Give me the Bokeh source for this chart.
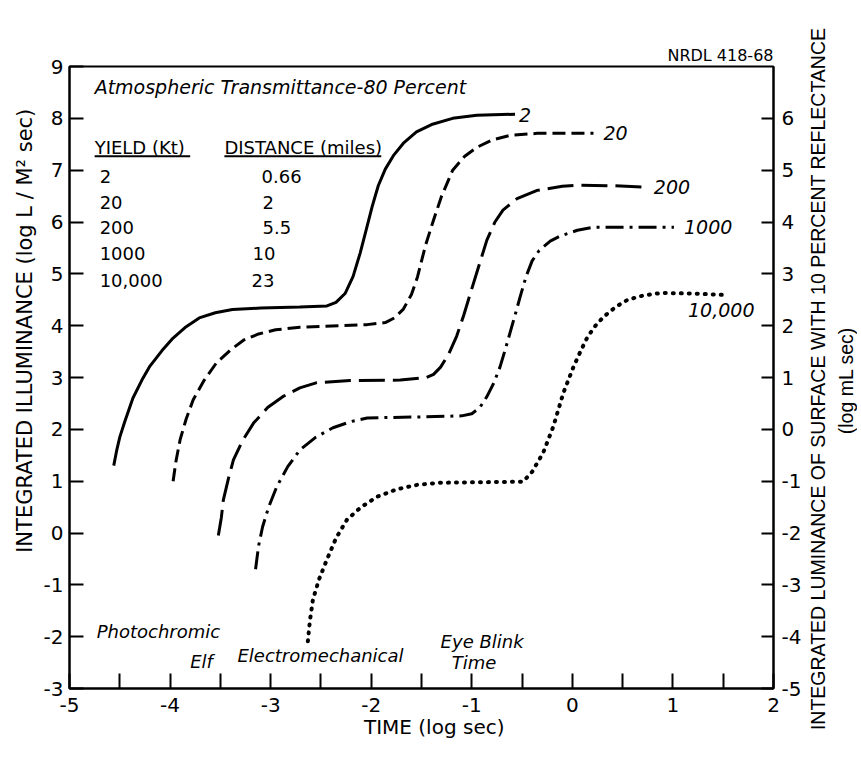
import math
from bokeh.plotting import figure
from bokeh.layouts import row
from bokeh.models import Range1d, LinearAxis, FixedTicker, Label, PrintfTickFormatter, Div
from bokeh.embed import file_html
from bokeh.resources import INLINE

# ---------------- data ----------------
x_2 = [-4.56, -4.53, -4.50, -4.45, -4.37, -4.28, -4.20, -4.08, -3.97, -3.84, -3.71, -3.55,
       -3.38, -3.10, -2.71, -2.44, -2.35, -2.26, -2.18, -2.11, -2.05, -1.99, -1.93, -1.86,
       -1.78, -1.68, -1.55, -1.40, -1.19, -0.95, -0.57]
y_2 = [1.30, 1.60, 1.85, 2.15, 2.60, 2.95, 3.22, 3.52, 3.76, 3.98, 4.15, 4.25,
       4.31, 4.34, 4.36, 4.38, 4.45, 4.62, 4.95, 5.40, 5.85, 6.30, 6.70, 7.02,
       7.28, 7.52, 7.74, 7.88, 8.00, 8.06, 8.08]

x_20 = [-3.97, -3.94, -3.90, -3.84, -3.77, -3.66, -3.54, -3.40, -3.27, -3.12, -2.95, -2.71,
        -2.30, -2.04, -1.86, -1.77, -1.68, -1.60, -1.54, -1.46, -1.38, -1.30, -1.19, -1.07,
        -0.95, -0.80, -0.62, -0.35, 0.21]
y_20 = [1.00, 1.40, 1.80, 2.20, 2.57, 2.95, 3.28, 3.53, 3.72, 3.84, 3.92, 3.97,
        4.00, 4.02, 4.06, 4.15, 4.32, 4.60, 4.94, 5.55, 6.04, 6.50, 7.00, 7.27,
        7.44, 7.58, 7.67, 7.71, 7.71]

x_200 = [-3.52, -3.49, -3.47, -3.42, -3.37, -3.28, -3.17, -3.03, -2.88, -2.71, -2.54, -2.21,
         -1.71, -1.45, -1.38, -1.31, -1.23, -1.15, -1.08, -1.01, -0.93, -0.85, -0.77, -0.69,
         -0.55, -0.35, -0.10, 0.08, 0.40, 0.75]
y_200 = [-0.05, 0.30, 0.64, 1.05, 1.41, 1.78, 2.12, 2.42, 2.63, 2.80, 2.90, 2.94,
         2.95, 3.00, 3.06, 3.20, 3.45, 3.80, 4.20, 4.65, 5.15, 5.65, 6.00, 6.23,
         6.45, 6.61, 6.69, 6.71, 6.70, 6.67]

x_1000 = [-3.15, -3.12, -3.08, -3.02, -2.94, -2.83, -2.71, -2.55, -2.38, -2.20, -2.04, -1.50,
          -1.10, -1.00, -0.92, -0.85, -0.78, -0.72, -0.67, -0.62, -0.57, -0.52, -0.46, -0.40,
          -0.33, -0.22, -0.12, 0.05, 0.21, 1.01]
y_1000 = [-0.70, -0.25, 0.12, 0.50, 0.89, 1.28, 1.60, 1.85, 2.03, 2.15, 2.22, 2.24,
          2.26, 2.30, 2.42, 2.63, 2.90, 3.20, 3.52, 3.86, 4.20, 4.55, 4.95, 5.25,
          5.45, 5.63, 5.73, 5.84, 5.90, 5.90]

x_10000 = [-2.63, -2.61, -2.58, -2.52, -2.44, -2.35, -2.24, -2.10, -1.94, -1.75, -1.54, -1.31,
           -0.49, -0.40, -0.29, -0.19, -0.09, 0.01, 0.08, 0.15, 0.23, 0.31, 0.43, 0.55,
           0.70, 0.88, 1.20, 1.54]
y_10000 = [-2.09, -1.70, -1.29, -0.90, -0.51, -0.10, 0.26, 0.50, 0.70, 0.84, 0.93, 0.97,
           0.99, 1.18, 1.55, 2.05, 2.70, 3.20, 3.50, 3.78, 4.00, 4.17, 4.36, 4.50,
           4.58, 4.63, 4.62, 4.59]

curve_labels = ["2", "20", "200", "1000", "10,000"]
yields = ["2", "20", "200", "1000", "10,000"]
distances = ["0.66", "2", "5.5", "10", "23"]

x_ticks = [-5, -4, -3, -2, -1, 0, 1, 2]
x_minor = [-4.5, -3.5, -2.5, -1.5, -0.5, 0.5, 1.5]
y_ticks = list(range(-3, 10))
y2_ticks = list(range(-5, 7))

right_title = "INTEGRATED LUMINANCE OF SURFACE WITH 10 PERCENT REFLECTANCE"
right_units = "(log mL sec)"

FONT = "DejaVu Sans"
NB = "\u00a0"
H = 748

# ---------------- main figure ----------------
p = figure(width=806, height=H, x_range=Range1d(-5, 2), y_range=Range1d(-3, 9),
           output_backend="svg", toolbar_location=None,
           min_border_left=69, min_border_right=33, min_border_top=66, min_border_bottom=60)
p.grid.visible = False
p.outline_line_color = "black"
p.outline_line_width = 2
p.background_fill_color = "white"
p.border_fill_color = "white"

p.title.text = "NRDL 418-68"
p.title.align = "right"
p.title.text_font = FONT
p.title.text_font_size = "16px"
p.title.text_font_style = "normal"
p.title.text_color = "black"
p.title.standoff = 3

p.extra_y_ranges = {"right": Range1d(-5, 7)}
raxis = LinearAxis(y_range_name="right")
p.add_layout(raxis, "right")

for ax in [p.xaxis[0], p.yaxis[0], raxis]:
    ax.formatter = PrintfTickFormatter(format="%d")
    ax.axis_line_color = "black"
    ax.axis_line_width = 2
    ax.major_tick_line_color = "black"
    ax.major_tick_line_width = 2
    ax.minor_tick_line_color = "black"
    ax.minor_tick_line_width = 2
    ax.major_tick_out = 0
    ax.minor_tick_out = 0
    ax.major_label_text_font = FONT
    ax.major_label_text_font_size = "20px"
    ax.major_label_text_color = "black"
    ax.axis_label_text_font = FONT
    ax.axis_label_text_font_size = "20px"
    ax.axis_label_text_font_style = "normal"
    ax.axis_label_text_color = "black"

p.xaxis[0].ticker = FixedTicker(ticks=x_ticks, minor_ticks=x_minor)
p.xaxis[0].major_tick_in = 15
p.xaxis[0].minor_tick_in = 15
p.xaxis[0].major_label_standoff = 9
p.xaxis[0].axis_label = NB * 4 + "TIME (log sec)"
p.xaxis[0].axis_label_standoff = 0

p.yaxis[0].ticker = FixedTicker(ticks=y_ticks)
p.yaxis[0].major_tick_in = 14
p.yaxis[0].minor_tick_in = 0
p.yaxis[0].major_label_standoff = 6
p.yaxis[0].axis_label = NB * 14 + "INTEGRATED ILLUMINANCE (log L / M\u00b2 sec)"
p.yaxis[0].axis_label_text_font_size = "21px"
p.yaxis[0].axis_label_standoff = 4

raxis.ticker = FixedTicker(ticks=y2_ticks)
raxis.major_tick_in = 12
raxis.minor_tick_in = 0
raxis.major_label_standoff = 8

# ---------------- curves ----------------
p.line(x_2, y_2, line_color="black", line_width=3)
p.line(x_20, y_20, line_color="black", line_width=3, line_dash="13 6")
p.line(x_200, y_200, line_color="black", line_width=3, line_dash="26 8")
p.line(x_1000, y_1000, line_color="black", line_width=3, line_dash="18 6 3 6")
p.line(x_10000, y_10000, line_color="black", line_width=4, line_dash="1 7", line_cap="round")

# curve end labels
curve_lab_x = [-0.53, 0.31, 0.81, 1.11, 1.15]
curve_lab_y = [8.06, 7.71, 6.67, 5.90, 4.30]
for t, lx, ly in zip(curve_labels, curve_lab_x, curve_lab_y):
    p.add_layout(Label(x=lx, y=ly, text=t, text_font=FONT, text_font_style="italic",
                       text_font_size="19px", text_baseline="middle", text_align="left",
                       text_color="black"))

def lab(fig, x, y, text, size="19px", style="normal", align="left", baseline="middle", angle=0.0):
    fig.add_layout(Label(x=x, y=y, text=text, text_font=FONT, text_font_style=style,
                         text_font_size=size, text_align=align, text_baseline=baseline,
                         angle=angle, text_color="black"))

# title and table
lab(p, -4.75, 8.60, "Atmospheric Transmittance-80 Percent", size="19px", style="italic")
lab(p, -4.75, 7.44, "YIELD (Kt)", size="18px")
lab(p, -3.46, 7.44, "DISTANCE (miles)", size="18px")
p.segment(x0=[-4.75, -3.46], y0=[7.27, 7.27], x1=[-3.80, -1.90], y1=[7.27, 7.27],
          line_color="black", line_width=2)
row_y = [6.88, 6.38, 5.90, 5.40, 4.88]
dist_x = [-3.09, -3.08, -3.08, -3.18, -3.19]
for yv, dv, ry, dx in zip(yields, distances, row_y, dist_x):
    lab(p, -4.70, ry, yv, size="18px")
    lab(p, dx, ry, dv, size="18px")

# bottom annotations
lab(p, -4.73, -1.90, "Photochromic", size="18px", style="italic")
lab(p, -3.80, -2.48, "Elf", size="18px", style="italic")
lab(p, -3.33, -2.36, "Electromechanical", size="18px", style="italic")
lab(p, -1.31, -2.09, "Eye Blink", size="18px", style="italic")
lab(p, -1.20, -2.50, "Time", size="18px", style="italic")

# ---------------- right-hand axis title (two lines, reading bottom to top) ----------------
W2 = 51
svg = (
    f'<svg xmlns="http://www.w3.org/2000/svg" width="{W2}" height="{H}" '
    f'style="display:block" font-family="DejaVu Sans" font-size="19.5px" fill="black">'
    f'<text transform="translate(12,379) rotate(-90)" text-anchor="middle" '
    f'dominant-baseline="central">{right_title}</text>'
    f'<text transform="translate(40,381) rotate(-90)" text-anchor="middle" '
    f'dominant-baseline="central">{right_units}</text>'
    f'</svg>'
)
strip = Div(text=svg, width=W2, height=H, styles={"margin": "0", "padding": "0"})

layout = row(p, strip, spacing=0)
open("out.html", "w").write(file_html(layout, INLINE))
